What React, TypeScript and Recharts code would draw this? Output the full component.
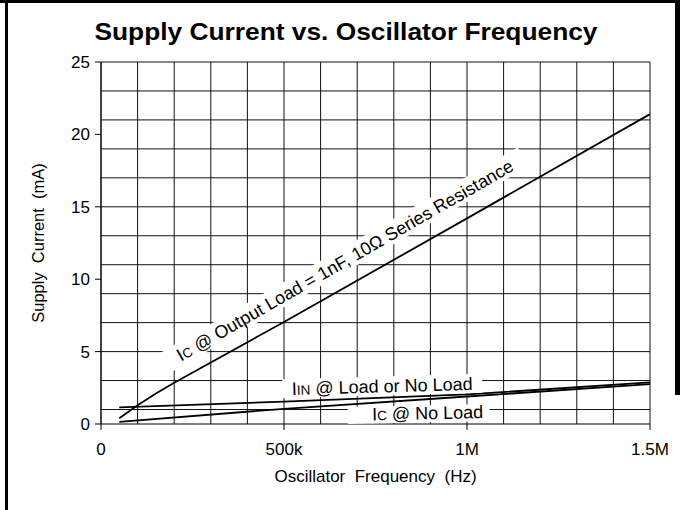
import React from "react";
import { LineChart, Line, XAxis, YAxis, CartesianGrid, ReferenceDot, Label } from "recharts";

// frequency (Hz) and supply current (mA)
const loadFreq = [50000, 100000, 150000, 200000, 500000, 1000000, 1500000];
const icOutputLoad = [0.4, 1.3, 2.1, 2.85, 7.05, 14.2, 21.4];

const noLoadFreq = [50000, 500000, 1000000, 1500000];
const iinLoadOrNoLoad = [1.15, 1.55, 2.04, 2.88];
const icNoLoad = [0.15, 1.05, 1.9, 2.75];

const xTicks = [0, 500000, 1000000, 1500000];
const xTickLabels = ["0", "500k", "1M", "1.5M"];
const yTicks = [0, 5, 10, 15, 20, 25];

const gridX = [0, 100000, 200000, 300000, 400000, 500000, 600000, 700000, 800000, 900000, 1000000, 1100000, 1200000, 1300000, 1400000, 1500000];
const gridY = [0, 1, 2, 3, 4, 5, 6, 7, 8, 9, 10, 11, 12, 13, 14, 15, 16, 17, 18, 19, 20, 21, 22, 23, 24, 25];

const FONT = "'Liberation Sans', Arial, Helvetica, sans-serif";

const toRows = (xs: number[], ys: number[]) => xs.map((f, i) => ({ f, v: ys[i] }));

const icLoadRows = toRows(loadFreq, icOutputLoad);
const iinRows = toRows(noLoadFreq, iinLoadOrNoLoad);
const icNoLoadRows = toRows(noLoadFreq, icNoLoad);

// white-backed curve label, anchored at the baseline centre
function tag(content: React.ReactNode, angle: number, left: number, right: number, up: number, down: number) {
  return (p: any) => {
    const { cx, cy } = p;
    return (
      <g transform={`rotate(${angle}, ${cx}, ${cy})`}>
        <rect x={cx - left} y={cy - up} width={left + right} height={up + down} fill="#fff" />
        <text x={cx} y={cy} textAnchor="middle" fontSize={18} fontFamily={FONT} fill="#000">
          {content}
        </text>
      </g>
    );
  };
}

const sub = (s: string) => <tspan fontSize={13.5}>{s}</tspan>;

const edge = (style: React.CSSProperties) => (
  <div style={{ position: "absolute", background: "#000", ...style }} />
);

export default function App() {
  return (
    <div
      style={{
        position: "fixed",
        left: 0,
        top: 0,
        width: 680,
        height: 510,
        background: "#fff",
        fontFamily: FONT,
      }}
    >
      <LineChart width={680} height={510} margin={{ top: 62, right: 30, bottom: 46, left: 41 }}>
        <CartesianGrid
          stroke="#111"
          strokeWidth={1}
          horizontalValues={gridY}
          verticalValues={gridX}
        />
        <XAxis
          type="number"
          dataKey="f"
          domain={[0, 1500000]}
          ticks={xTicks}
          tickFormatter={(t: number) => xTickLabels[xTicks.indexOf(t)]}
          allowDataOverflow
          height={40}
          tickSize={6}
          tickMargin={13}
          axisLine={{ stroke: "#000" }}
          tickLine={{ stroke: "#000" }}
          tick={{ fill: "#000", fontSize: 17, fontFamily: FONT }}
        >
          <Label
            value={"Oscillator\u00a0 Frequency\u00a0 (Hz)"}
            position="bottom"
            offset={6}
            fill="#000"
            fontSize={17}
            fontFamily={FONT}
          />
        </XAxis>
        <YAxis
          type="number"
          dataKey="v"
          domain={[0, 25]}
          ticks={yTicks}
          allowDataOverflow
          width={60}
          tickSize={6}
          tickMargin={5}
          axisLine={{ stroke: "#000" }}
          tickLine={{ stroke: "#000" }}
          tick={{ fill: "#000", fontSize: 17, fontFamily: FONT }}
        >
          <Label
            content={(p: any) => {
              const cy = p.viewBox.y + p.viewBox.height / 2;
              return (
                <text
                  x={44}
                  y={cy}
                  transform={`rotate(-90, 44, ${cy})`}
                  textAnchor="middle"
                  fontSize={16.5}
                  fontFamily={FONT}
                  fill="#000"
                >
                  {"Supply\u00a0 Current\u00a0 (mA)"}
                </text>
              );
            }}
          />
        </YAxis>
        <Line data={icLoadRows} dataKey="v" stroke="#000" strokeWidth={1.8} dot={false} isAnimationActive={false} />
        <Line data={iinRows} dataKey="v" stroke="#000" strokeWidth={1.8} dot={false} isAnimationActive={false} />
        <Line data={icNoLoadRows} dataKey="v" stroke="#000" strokeWidth={1.8} dot={false} isAnimationActive={false} />
        <ReferenceDot
          x={675000}
          y={10.93}
          ifOverflow="visible"
          shape={tag(<>I{sub("C")} @ Output Load = 1nF, 10Ω Series Resistance</>, -29.9, 206, 206, 18, 4)}
        />
        <ReferenceDot
          x={769000}
          y={2.18}
          ifOverflow="visible"
          shape={tag(<>I{sub("IN")} @ Load or No Load</>, -1.6, 100, 100, 16, 3)}
        />
        <ReferenceDot
          x={893000}
          y={0.33}
          ifOverflow="visible"
          shape={tag(<>I{sub("C")} @ No Load</>, -1.2, 80, 62, 14, 3)}
        />
      </LineChart>
      <svg width={680} height={60} style={{ position: "absolute", left: 0, top: 0 }}>
        <text
          x={346}
          y={40}
          textAnchor="middle"
          fontSize={24}
          fontWeight="bold"
          fontFamily={FONT}
          textLength={503}
          lengthAdjust="spacingAndGlyphs"
          fill="#000"
        >
          Supply Current vs. Oscillator Frequency
        </text>
      </svg>
      {edge({ left: 0, top: 0, width: 680, height: 3 })}
      {edge({ left: 5, top: 0, width: 3, height: 510 })}
      {edge({ left: 675, top: 0, width: 5, height: 395 })}
    </div>
  );
}
